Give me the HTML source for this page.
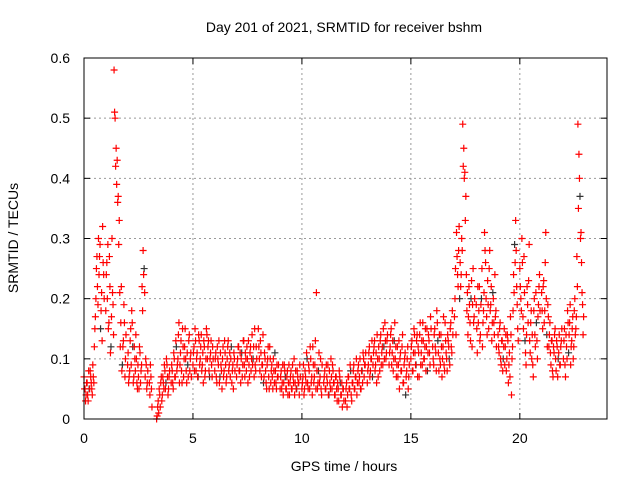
<!DOCTYPE html>
<html><head><meta charset="utf-8"><style>
body{margin:0;background:#fff}
svg{display:block;font-family:"Liberation Sans",sans-serif}
</style></head><body>
<svg id="chart" width="640" height="480">
<text x="344" y="32" font-size="14" text-anchor="middle">Day 201 of 2021, SRMTID for receiver bshm</text>
<text x="344" y="471" font-size="14" text-anchor="middle">GPS time / hours</text>
<text x="18" y="238" font-size="14" text-anchor="middle" transform="rotate(-90 18 238)">SRMTID / TECUs</text>
<g id="grid"></g><g id="ticks"></g><g id="marks"></g>
<rect x="84" y="58" width="523" height="361" fill="none" stroke="#000"/>
</svg>
<script>
const xTicks=[0,5,10,15,20];
const yTicks=[0,0.1,0.2,0.3,0.4,0.5,0.6];
const yTickLabels=["0","0.1","0.2","0.3","0.4","0.5","0.6"];
const hourStarts=[0,1,2,3,4,5,6,7,8,9,10,11,12,13,14,15,16,17,18,19,20,21,22];
const h0=[.07,.05,.04,.06,.03,.05,.08,.06,.04,.07,.12,.17,.25,.22,.30,.27,.15,.21,.32,.24];
const h1=[.18,.26,.29,.16,.22,.12,.30,.19,.58,.50,.45,.43,.37,.33,.12,.22,.09,.13,.16,.10];
const h2=[.09,.06,.08,.15,.18,.12,.07,.10,.14,.06,.09,.05,.11,.08,.22,.28,.25,.07,.09,.06];
const h3=[.06,.09,.05,null,null,null,null,0,.02,.01,.04,.06,.03,.07,.05,.08,.06,.09,.04,.07];
const h4=[.06,.08,.05,.10,.07,.12,.09,.14,.06,.11,.08,.15,.07,.12,.10,.06,.09,.13,.08,.11];
const h5=[.09,.12,.15,.08,.11,.07,.13,.10,.14,.09,.06,.12,.08,.15,.10,.13,.07,.11,.09,.12];
const h6=[.08,.11,.06,.10,.13,.07,.09,.05,.12,.08,.11,.06,.10,.13,.09,.07,.12,.08,.05,.10];
const h7=[.07,.10,.12,.08,.06,.11,.09,.13,.07,.10,.12,.06,.09,.11,.08,.14,.10,.07,.09,.12];
const h8=[.15,.10,.13,.07,.09,.06,.11,.08,.05,.10,.07,.12,.06,.09,.05,.08,.11,.06,.09,.07];
const h9=[.05,.08,.06,.04,.09,.07,.05,.08,.06,.04,.07,.05,.09,.06,.04,.08,.05,.07,.06,.09];
const h10=[.05,.07,.04,.08,.06,.10,.05,.08,.12,.06,.04,.09,.07,.13,.21,.05,.08,.06,.10,.04];
const h11=[.06,.08,.05,.07,.09,.04,.06,.10,.05,.08,.06,.04,.07,.03,.05,.08,.06,.04,.02,.05];
const h12=[.03,.06,.04,.07,.05,.08,.03,.06,.09,.05,.07,.04,.08,.06,.10,.05,.08,.11,.07,.09];
const h13=[.06,.09,.12,.08,.10,.07,.11,.13,.09,.06,.10,.12,.08,.14,.11,.09,.12,.16,.10,.13];
const h14=[.09,.12,.15,.11,.08,.13,.10,.07,.12,.09,.05,.11,.08,.14,.06,.10,.04,.08,.12,.07];
const h15=[.10,.13,.08,.15,.11,.09,.14,.12,.07,.16,.11,.09,.13,.10,.15,.12,.08,.14,.11,.17];
const h16=[.12,.09,.15,.11,.18,.13,.08,.10,.14,.07,.12,.09,.16,.11,.08,.13,.10,.15,.12,.18];
const h17=[.17,.25,.31,.24,.28,.20,.22,.30,.49,.45,.41,.37,.18,.14,.22,.16,.20,.12,.25,.17];
const h18=[.19,.11,.16,.22,.14,.20,.12,.18,.31,.26,.17,.23,.15,.28,.19,.13,.21,.16,.24,.18];
const h19=[.14,.11,.16,.09,.13,.10,.15,.12,.08,.14,.06,.11,.17,.04,.12,.24,.29,.33,.22,.15];
const h20=[.25,.20,.30,.17,.27,.13,.09,.22,.16,.29,.11,.18,.14,.07,.20,.12,.16,.10,.19,.24];
const h21=[.21,.15,.23,.18,.31,.14,.19,.12,.16,.09,.13,.07,.11,.15,.08,.12,.10,.14,.09,.13];
const h22=[.10,.15,.07,.12,.18,.11,.16,.09,.13,.17,.12,.20,.15,.27,.49,.44,.37,.31,.21,.14];
const b0=[.05,.03,.06,.04,.08,.05,.07,.05,.09,.06,.15,.20,.27,.19,.24,.29,.18,.13,.26,.20];
const b1=[.24,.20,.15,.27,.11,.17,.21,.14,.51,.42,.39,.36,.29,.21,.16,.08,.12,.19,.07,.14];
const b2=[.11,.07,.13,.09,.16,.06,.12,.08,.10,.05,.07,.12,.06,.09,.18,.24,.21,.10,.05,.08];
const b3=[.04,.07,.02,null,null,null,null,.005,.03,.05,.02,.07,.04,.06,.09,.05,.10,.07,.05,.08];
const b4=[.09,.06,.11,.07,.13,.08,.10,.16,.09,.13,.06,.12,.10,.15,.08,.11,.07,.14,.10,.07];
const b5=[.11,.08,.13,.10,.07,.14,.09,.12,.08,.11,.13,.07,.10,.14,.12,.08,.10,.13,.07,.10];
const b6=[.10,.07,.12,.09,.06,.11,.08,.10,.07,.13,.09,.07,.12,.08,.11,.10,.06,.09,.11,.08];
const b7=[.09,.12,.08,.11,.10,.07,.13,.09,.11,.08,.10,.13,.07,.12,.10,.09,.12,.15,.08,.10];
const b8=[.12,.08,.11,.09,.14,.07,.10,.06,.09,.12,.05,.10,.08,.07,.10,.06,.08,.05,.07,.09];
const b9=[.07,.05,.09,.06,.08,.05,.07,.04,.09,.06,.08,.05,.07,.10,.06,.05,.08,.06,.04,.07];
const b10=[.06,.09,.05,.07,.11,.06,.09,.05,.10,.07,.12,.06,.09,.05,.08,.06,.11,.07,.05,.09];
const b11=[.07,.05,.09,.06,.04,.08,.05,.07,.09,.06,.04,.07,.05,.06,.03,.07,.04,.06,.05,.03];
const b12=[.05,.02,.07,.05,.09,.04,.06,.08,.05,.07,.10,.06,.09,.07,.05,.08,.06,.10,.09,.11];
const b13=[.08,.11,.07,.10,.13,.09,.12,.08,.11,.14,.07,.10,.13,.09,.12,.15,.10,.13,.11,.14];
const b14=[.11,.14,.09,.13,.10,.16,.12,.09,.07,.13,.10,.08,.12,.06,.09,.11,.07,.10,.05,.09];
const b15=[.12,.08,.11,.14,.09,.13,.07,.11,.14,.09,.13,.16,.10,.12,.08,.15,.11,.13,.09,.15];
const b16=[.10,.14,.12,.08,.16,.11,.14,.09,.12,.10,.17,.08,.13,.10,.14,.12,.09,.16,.11,.14];
const b17=[.20,.14,.27,.22,.32,.26,.24,.28,.42,.40,.33,.24,.21,.17,.19,.13,.23,.19,.16,.20];
const b18=[.15,.22,.18,.13,.19,.25,.16,.21,.28,.20,.14,.19,.25,.18,.22,.16,.20,.14,.17,.12];
const b19=[.12,.15,.10,.13,.08,.12,.09,.14,.10,.13,.09,.07,.14,.10,.18,.21,.26,.28,.19,.13];
const b20=[.22,.18,.26,.15,.21,.11,.14,.19,.23,.13,.16,.10,.09,.18,.14,.21,.13,.17,.22,.18];
const b21=[.18,.22,.16,.26,.20,.12,.17,.14,.11,.13,.08,.12,.14,.10,.13,.07,.11,.09,.12,.15];
const b22=[.13,.09,.14,.10,.16,.14,.19,.12,.15,.10,.18,.14,.17,.22,.35,.40,.30,.26,.19,.17];
const hoursA=[h0,h1,h2,h3,h4,h5,h6,h7,h8,h9,h10,h11,h12,h13,h14,h15,h16,h17,h18,h19,h20,h21,h22];
const hoursB=[b0,b1,b2,b3,b4,b5,b6,b7,b8,b9,b10,b11,b12,b13,b14,b15,b16,b17,b18,b19,b20,b21,b22];
const NS="http://www.w3.org/2000/svg";
const X=t=>84+t*(523/24), Y=v=>419-v*(361/0.6);
const grid=document.getElementById('grid'),ticks=document.getElementById('ticks'),marks=document.getElementById('marks');
function mk(tag,attrs,parent){const e=document.createElementNS(NS,tag);for(const k in attrs)e.setAttribute(k,attrs[k]);parent.appendChild(e);return e;}
xTicks.forEach(t=>{
  if(t>0){const g=mk('line',{x1:X(t),x2:X(t),y1:58,y2:419,stroke:'#999','stroke-dasharray':'2,3'},grid);
  
  }
  const l=mk('text',{x:X(t),y:443,'font-size':14,'text-anchor':'middle'},ticks);l.textContent=t;
  
  
  mk('line',{x1:X(t),x2:X(t),y1:419,y2:413,stroke:'#000'},ticks);
  mk('line',{x1:X(t),x2:X(t),y1:58,y2:64,stroke:'#000'},ticks);
});
yTicks.forEach((v,i)=>{
  if(v>0&&v<0.6){const g=mk('line',{x1:84,x2:607,y1:Y(v),y2:Y(v),stroke:'#999','stroke-dasharray':'2,3'},grid);
  
  }
  const l=mk('text',{x:70,y:Y(v)+5,'font-size':14,'text-anchor':'end'},ticks);l.textContent=yTickLabels[i];
  
  
  mk('line',{x1:84,x2:90,y1:Y(v),y2:Y(v),stroke:'#000'},ticks);
  mk('line',{x1:607,x2:601,y1:Y(v),y2:Y(v),stroke:'#000'},ticks);
});
function drawSet(set,offset){
  hourStarts.forEach((h,hi)=>{
    const arr=set[hi];
    arr.forEach((v,j)=>{
      if(v===null)return;
      const t=h+(j+offset)/arr.length*0.95;
      const x=X(t),y=Y(v);
      const p=mk('path',{d:`M${x-3.5},${y}h7M${x},${y-3.5}v7`,stroke:(j%11===5&&offset===0?'#333':'#f00'),'stroke-width':1.2},marks);
      
      
    });
  });
}
drawSet(hoursA,0);
drawSet(hoursB,0.5);
</script>
</body></html>
